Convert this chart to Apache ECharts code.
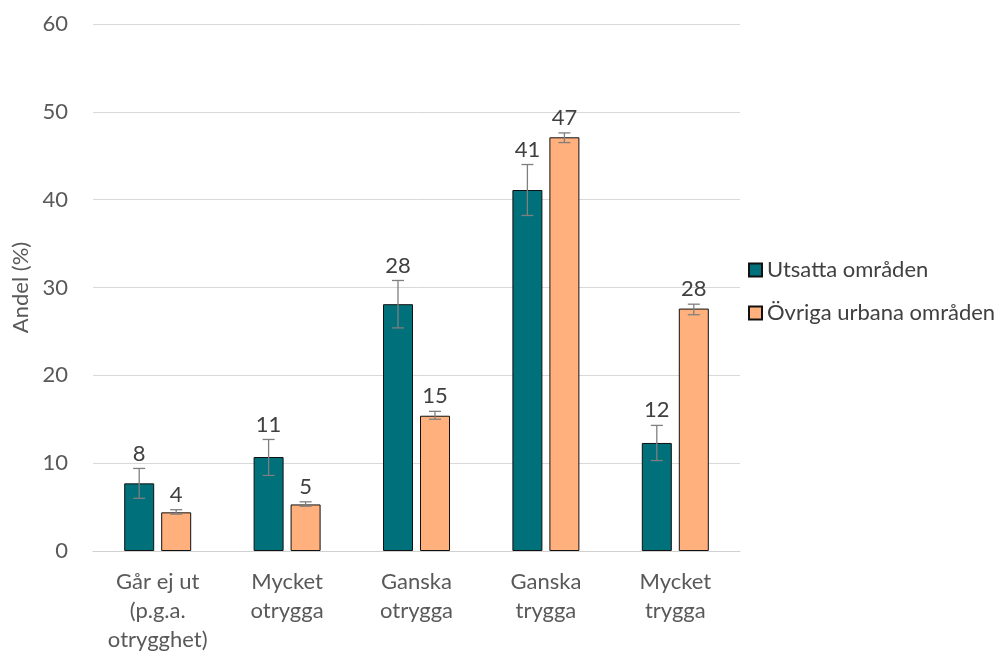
<!DOCTYPE html>
<html>
<head>
<meta charset="utf-8">
<script src="https://cdn.jsdelivr.net/npm/echarts@6/dist/echarts.min.js"></script>
<style>
  html, body { margin: 0; padding: 0; background: #fff; }
  #chart { width: 1000px; height: 654px; }
</style>
</head>
<body>
<div id="chart"></div>
<script>
// kategorier och värden (andel i procent)
const categories = ['Går ej ut\n(p.g.a.\notrygghet)', 'Mycket\notrygga', 'Ganska\notrygga', 'Ganska\ntrygga', 'Mycket\ntrygga']
const seriesNames = ['Utsatta områden', 'Övriga urbana områden']
const utsatta = [7.7, 10.7, 28.1, 41.1, 12.3]
const utsattaLow = [6.0, 8.6, 25.4, 38.2, 10.3]
const utsattaHigh = [9.4, 12.7, 30.8, 44.0, 14.3]
const ovriga = [4.4, 5.3, 15.4, 47.1, 27.6]
const ovrigaLow = [4.2, 5.1, 15.0, 46.5, 26.9]
const ovrigaHigh = [4.7, 5.6, 15.9, 47.6, 28.1]
const yTicks = { min: 0, max: 60, interval: 10 }

const FONT = 'Lato'
const FS = 22
const BAR_W = 30
const BAR_GAP = 7

/** felstaplar + etikett över felstapeln */
function errorSeries (values, low, high, side) {
  const data = values.map((v, i) => [i, low[i], high[i], v])
  return {
    type: 'custom',
    z: 5,
    data: data,
    renderItem: function (params, api) {
      const i = api.value(0)
      const lo = api.coord([i, api.value(1)])
      const hi = api.coord([i, api.value(2)])
      const x = lo[0] + side * (BAR_W / 2 + BAR_GAP / 2)
      const cap = 6
      const style = { stroke: '#7f7f7f', lineWidth: 1.3 }
      return {
        type: 'group',
        children: [
          { type: 'line', shape: { x1: x, y1: lo[1], x2: x, y2: hi[1] }, style: style },
          { type: 'line', shape: { x1: x - cap, y1: hi[1], x2: x + cap, y2: hi[1] }, style: style },
          { type: 'line', shape: { x1: x - cap, y1: lo[1], x2: x + cap, y2: lo[1] }, style: style },
          {
            type: 'text',
            x: x,
            y: hi[1] - 4,
            style: {
              text: String(Math.round(api.value(3))),
              fill: '#404040',
              font: FS + 'px ' + FONT,
              align: 'center',
              verticalAlign: 'bottom'
            }
          }
        ]
      }
    }
  }
}

const chart = echarts.init(document.getElementById('chart'))
const option = {
  animation: false,
  textStyle: { fontFamily: FONT },
  grid: { left: 93, right: 260, top: 24, bottom: 101 },
  legend: {
    orient: 'vertical',
    left: 743,
    top: 254,
    itemWidth: 13,
    itemHeight: 13,
    itemGap: 21,
    icon: 'rect',
    textStyle: { fontSize: FS, color: '#404040', fontFamily: FONT },
    data: seriesNames
  },
  xAxis: {
    type: 'category',
    data: categories,
    axisTick: { show: false },
    axisLine: { lineStyle: { color: '#d0d0d0', width: 1 } },
    axisLabel: {
      fontSize: FS,
      color: '#595959',
      lineHeight: 29,
      margin: 16,
      interval: 0
    }
  },
  yAxis: {
    type: 'value',
    min: yTicks.min,
    max: yTicks.max,
    interval: yTicks.interval,
    name: 'Andel (%)',
    nameLocation: 'middle',
    nameGap: 59,
    nameTextStyle: { fontSize: FS, color: '#595959' },
    axisLabel: { fontSize: FS, color: '#595959', margin: 25 },
    splitLine: { lineStyle: { color: '#d9d9d9' } }
  },
  series: [
    {
      name: seriesNames[0],
      type: 'bar',
      barWidth: BAR_W,
      barGap: (BAR_GAP / BAR_W * 100) + '%',
      data: utsatta,
      itemStyle: { color: '#00707a', borderColor: '#111', borderWidth: 1 }
    },
    {
      name: seriesNames[1],
      type: 'bar',
      barWidth: BAR_W,
      data: ovriga,
      itemStyle: { color: '#ffb07c', borderColor: '#111', borderWidth: 1 }
    },
    errorSeries(utsatta, utsattaLow, utsattaHigh, -1),
    errorSeries(ovriga, ovrigaLow, ovrigaHigh, 1)
  ]
}
chart.setOption(option)
</script>
</body>
</html>
